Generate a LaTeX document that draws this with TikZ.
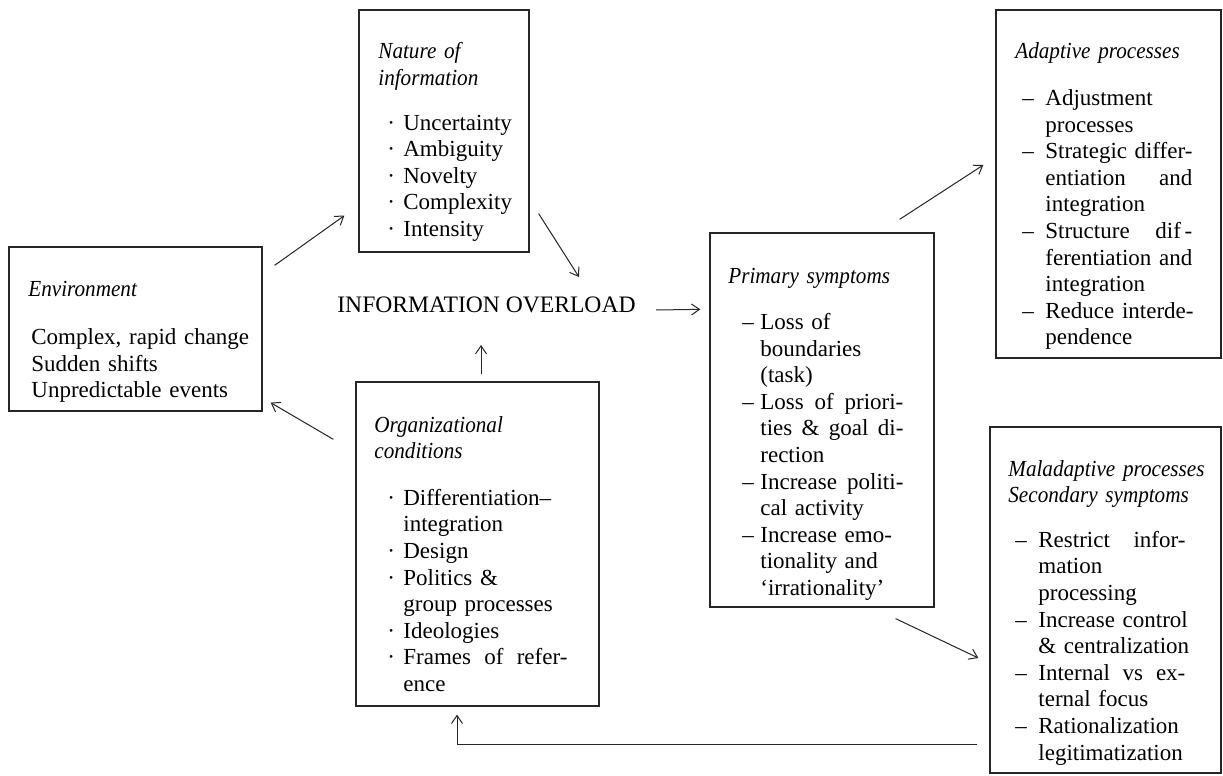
\documentclass[tikz,border=0pt]{standalone}
\usepackage{fontspec}
\setmainfont{Liberation Serif}[ItalicFeatures={FakeStretch=0.92}]
\usetikzlibrary{arrows.meta}
% list helpers: marker at an indent, continuation lines, justified lines
\newcommand{\itm}[3]{\hspace*{#1}\makebox[#2][l]{#3}}
\newcommand{\cnt}[1]{\hspace*{#1}}
\newcommand{\jl}[2]{{\spaceskip=0pt\xspaceskip=0pt\makebox[#1][s]{#2}}}
\begin{document}
\begin{tikzpicture}[x=0.5pt,y=-0.5pt,
  box/.style={draw=black!85, line width=0.65pt, inner sep=0pt},
  txt/.style={anchor=base west, inner sep=0pt, align=left, text width=160pt,
    font=\fontsize{11.5}{13.3}\selectfont, text=black},
  link/.style={draw=black!85, line width=0.5pt, -{Straight Barb[length=4pt,width=5.5pt]}}]
\useasboundingbox[fill=white] (0,0) rectangle (1223,776);

% boxes
\node[box, minimum width=126.5pt, minimum height=82pt]  (env)   at (135.5,329) {};
\node[box, minimum width=85pt,    minimum height=121pt] (nat)   at (444,131)   {};
\node[box, minimum width=121.5pt, minimum height=162pt] (org)   at (477.5,544) {};
\node[box, minimum width=112pt,   minimum height=187pt] (prim)  at (822,420)   {};
\node[box, minimum width=112.5pt, minimum height=174pt] (adapt) at (1108.5,184){};
\node[box, minimum width=115.5pt, minimum height=173pt] (mal)   at (1105.5,600){};

% central label
\node[anchor=base, inner sep=0pt, font=\fontsize{11.8}{13.3}\selectfont, text=black]
  (ov) at (486.5,312) {INFORMATION OVERLOAD};

% box texts
\node[txt] (envt) at (28,296) {\textit{Environment}\\[11pt]
\hspace*{1.5pt}Complex, rapid change\\
\hspace*{1.5pt}Sudden shifts\\
\hspace*{1.5pt}Unpredictable events};

\node[txt] (natt) at (378,59) {\textit{Nature of}\\
\textit{information}\\[9pt]
\itm{4.5pt}{8pt}{\textperiodcentered}Uncertainty\\
\itm{4.5pt}{8pt}{\textperiodcentered}Ambiguity\\
\itm{4.5pt}{8pt}{\textperiodcentered}Novelty\\
\itm{4.5pt}{8pt}{\textperiodcentered}Complexity\\
\itm{4.5pt}{8pt}{\textperiodcentered}Intensity};

\node[txt] (orgt) at (374,432) {\textit{Organizational}\\
\textit{conditions}\\[10pt]
\itm{6.5pt}{8pt}{\textperiodcentered}Differentiation\textendash\\
\cnt{14.5pt}integration\\
\itm{6.5pt}{8pt}{\textperiodcentered}Design\\
\itm{6.5pt}{8pt}{\textperiodcentered}Politics \&\\
\cnt{14.5pt}group processes\\
\itm{6.5pt}{8pt}{\textperiodcentered}Ideologies\\
\itm{6.5pt}{8pt}{\textperiodcentered}\jl{82pt}{Frames of refer-}\\
\cnt{14.5pt}ence};

\node[txt] (primt) at (728,283) {\textit{Primary symptoms}\\[10pt]
\itm{7pt}{9pt}{\textendash}Loss of\\
\cnt{16pt}boundaries\\
\cnt{16pt}(task)\\
\itm{7pt}{9pt}{\textendash}\jl{71.5pt}{Loss of priori-}\\
\cnt{16pt}\jl{71.5pt}{ties \& goal di-}\\
\cnt{16pt}rection\\
\itm{7pt}{9pt}{\textendash}\jl{71.5pt}{Increase politi-}\\
\cnt{16pt}cal activity\\
\itm{7pt}{9pt}{\textendash}Increase emo-\\
\cnt{16pt}tionality and\\
\cnt{16pt}`irrationality'};

\node[txt] (adaptt) at (1015,59) {\textit{Adaptive processes}\\[10pt]
\itm{3.5pt}{11.5pt}{\textendash}Adjustment\\
\cnt{15pt}processes\\
\itm{3.5pt}{11.5pt}{\textendash}\jl{73.5pt}{Strategic differ-}\\
\cnt{15pt}\jl{73.5pt}{entiation and}\\
\cnt{15pt}integration\\
\itm{3.5pt}{11.5pt}{\textendash}\jl{73.5pt}{Structure dif\,-}\\
\cnt{15pt}ferentiation and\\
\cnt{15pt}integration\\
\itm{3.5pt}{11.5pt}{\textendash}Reduce interde-\\
\cnt{15pt}pendence};

\node[txt] (malt) at (1008,476) {\textit{Maladaptive processes}\\
\textit{Secondary symptoms}\\[9pt]
\itm{3.5pt}{11.5pt}{\textendash}\jl{73.5pt}{Restrict infor-}\\
\cnt{15pt}mation\\
\cnt{15pt}processing\\
\itm{3.5pt}{11.5pt}{\textendash}Increase control\\
\cnt{15pt}\& centralization\\
\itm{3.5pt}{11.5pt}{\textendash}\jl{73.5pt}{Internal vs ex-}\\
\cnt{15pt}ternal focus\\
\itm{3.5pt}{11.5pt}{\textendash}Rationalization\\
\cnt{15pt}legitimatization};

% connectors
\draw[link] ([shift={(12,19)}]env.north east) -- ([shift={(-14,-37)}]nat.south west);
\draw[link] ([shift={(9,-39)}]nat.south east) -- ([shift={(92.5,-35)}]ov.base);
\draw[link] ([shift={(20,-2)}]ov.base east) -- ([shift={(-9,77)}]prim.north west);
\draw[link] ([shift={(3.5,-7)}]org.north) -- ([shift={(-5.5,33)}]ov.base);
\draw[link] ([shift={(-22,58)}]org.north west) -- ([shift={(8,-9)}]env.south east);
\draw[link] ([shift={(-35,-13)}]prim.north east) -- ([shift={(-12,-19)}]adapt.west);
\draw[link] ([shift={(-39,11)}]prim.south east) -- ([shift={(-11,58)}]mal.west);
\draw[link] ([shift={(-12,-29)}]mal.south west) -| ([shift={(-20.5,8)}]org.south);
\end{tikzpicture}
\end{document}
